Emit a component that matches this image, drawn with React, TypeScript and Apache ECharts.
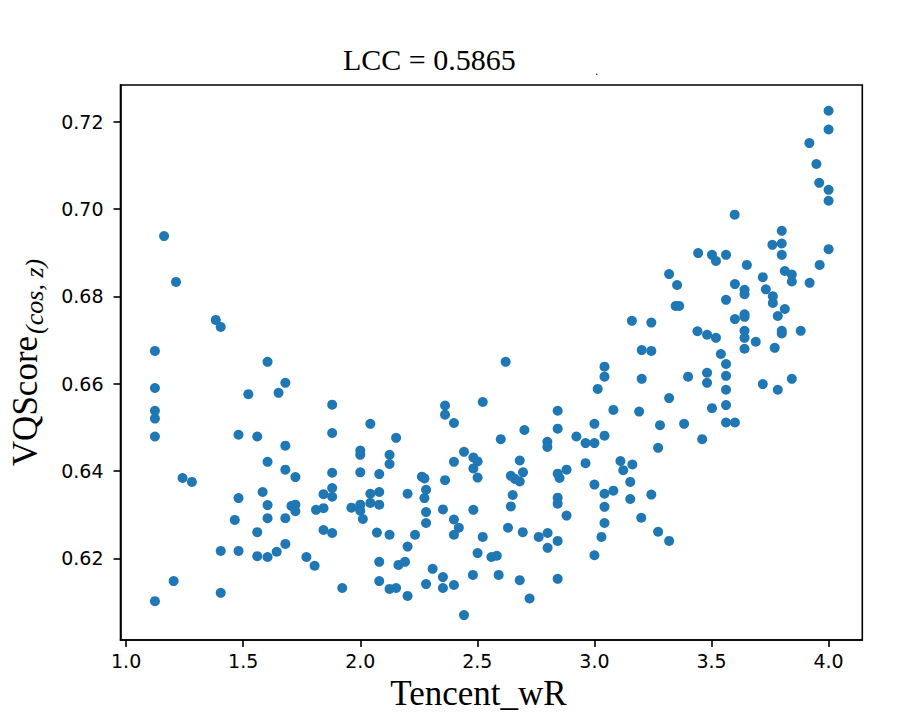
import React, { useEffect, useRef } from "react";
import * as echarts from "echarts";

// Tencent_wR values (x) and VQScore_(cos,z) values (y)
const tencentWR = [
  1.123, 1.123, 1.123, 1.123, 1.123, 1.123, 1.162, 1.213, 1.203, 1.241,
  1.281, 1.383, 1.404, 1.404, 1.404, 1.464, 1.48, 1.48, 1.48, 1.522,
  1.56, 1.56, 1.56, 1.583, 1.604, 1.604, 1.604, 1.604, 1.604, 1.643,
  1.651, 1.68, 1.68, 1.68, 1.68, 1.68, 1.706, 1.723, 1.723, 1.723,
  1.77, 1.805, 1.811, 1.843, 1.843, 1.843, 1.88, 1.88, 1.88, 1.88,
  1.88, 1.88, 1.923, 1.962, 2.0, 2.0, 2.0, 2.0, 2.0, 2.011,
  2.043, 2.043, 2.043, 2.071, 2.081, 2.081, 2.081, 2.081, 2.081, 2.125,
  2.125, 2.125, 2.125, 2.153, 2.153, 2.163, 2.191, 2.202, 2.202, 2.202,
  2.234, 2.263, 2.274, 2.274, 2.281, 2.281, 2.281, 2.281, 2.309, 2.353,
  2.353, 2.353, 2.362, 2.362, 2.362, 2.4, 2.4, 2.4, 2.4, 2.4,
  2.421, 2.443, 2.443, 2.481, 2.483, 2.483, 2.483, 2.501, 2.501, 2.501,
  2.523, 2.523, 2.56, 2.583, 2.591, 2.6, 2.621, 2.631, 2.643, 2.643,
  2.651, 2.66, 2.681, 2.681, 2.681, 2.694, 2.695, 2.701, 2.723, 2.762,
  2.799, 2.799, 2.8, 2.8, 2.843, 2.843, 2.843, 2.851, 2.843, 2.843,
  2.843, 2.843, 2.881, 2.881, 2.923, 2.962, 2.962, 3.0, 3.0, 3.0,
  3.0, 3.014, 3.043, 3.043, 3.043, 3.043, 3.043, 3.043, 3.03, 3.081,
  3.081, 3.111, 3.123, 3.153, 3.153, 3.16, 3.162, 3.191, 3.2, 3.202,
  3.202, 3.243, 3.243, 3.243, 3.272, 3.272, 3.28, 3.319, 3.319, 3.319,
  3.347, 3.362, 3.353, 3.383, 3.4, 3.44, 3.443, 3.46, 3.481, 3.481,
  3.481, 3.502, 3.502, 3.519, 3.519, 3.54, 3.562, 3.562, 3.562, 3.562,
  3.562, 3.562, 3.562, 3.599, 3.6, 3.6, 3.6, 3.641, 3.641, 3.641,
  3.641, 3.641, 3.641, 3.641, 3.651, 3.689, 3.719, 3.719, 3.732, 3.76,
  3.762, 3.762, 3.77, 3.783, 3.783, 3.8, 3.8, 3.8, 3.8, 3.8,
  3.813, 3.813, 3.843, 3.843, 3.843, 3.881, 3.918, 3.919, 3.948, 3.96,
  3.962, 4.0, 4.0, 4.0, 4.0, 4.0,
];

const vqScore = [
  0.6675, 0.659, 0.6538, 0.652, 0.6479, 0.6102, 0.6938, 0.6833, 0.6148, 0.6384,
  0.6375, 0.6746, 0.673, 0.6217, 0.6121, 0.6288, 0.6483, 0.6338, 0.6217, 0.6576,
  0.6479, 0.626, 0.6205, 0.6352, 0.665, 0.6421, 0.6322, 0.6292, 0.6203, 0.6215,
  0.6579, 0.6602, 0.6458, 0.6403, 0.6292, 0.6233, 0.632, 0.6386, 0.6323, 0.6308,
  0.6203, 0.6183, 0.6311, 0.6347, 0.6315, 0.6265, 0.6552, 0.6487, 0.6396, 0.6361,
  0.6341, 0.6258, 0.6132, 0.6316, 0.6447, 0.6437, 0.6397, 0.6323, 0.6309, 0.629,
  0.6508, 0.6348, 0.6327, 0.6259, 0.6393, 0.6352, 0.6323, 0.6192, 0.6148, 0.6437,
  0.6416, 0.6254, 0.613, 0.6476, 0.6132, 0.6185, 0.6192, 0.6348, 0.6227, 0.6114,
  0.6254, 0.6387, 0.6383, 0.6338, 0.6357, 0.6306, 0.6281, 0.6141, 0.6176, 0.6312,
  0.6157, 0.6132, 0.655, 0.6529, 0.6379, 0.651, 0.6421, 0.6289, 0.6254, 0.6139,
  0.627, 0.6444, 0.607, 0.6162, 0.6431, 0.6406, 0.6311, 0.6422, 0.6385, 0.6212,
  0.6558, 0.6249, 0.6203, 0.6206, 0.6162, 0.6473, 0.665, 0.627, 0.6389, 0.6319,
  0.6345, 0.6382, 0.6424, 0.6376, 0.615, 0.626, 0.6397, 0.6494, 0.6108, 0.6249,
  0.6467, 0.6455, 0.6258, 0.6224, 0.6538, 0.6497, 0.6394, 0.6384, 0.6339, 0.6325,
  0.624, 0.6153, 0.6403, 0.6298, 0.6479, 0.6464, 0.6418, 0.6508, 0.6464, 0.6369,
  0.6207, 0.6588, 0.6639, 0.6616, 0.6481, 0.6348, 0.6318, 0.6281, 0.6249, 0.654,
  0.6355, 0.6423, 0.6402, 0.6375, 0.6336, 0.6744, 0.6415, 0.6536, 0.6293, 0.6677,
  0.6611, 0.674, 0.6675, 0.6346, 0.6453, 0.6261, 0.6505, 0.6851, 0.6567, 0.624,
  0.6778, 0.6778, 0.6826, 0.6508, 0.6616, 0.672, 0.6899, 0.6473, 0.6712, 0.6625,
  0.6602, 0.6895, 0.6544, 0.6881, 0.6705, 0.6668, 0.6895, 0.6792, 0.6645, 0.6618,
  0.6586, 0.6551, 0.6511, 0.6987, 0.6828, 0.6748, 0.6511, 0.6815, 0.6805, 0.6759,
  0.6753, 0.6721, 0.6705, 0.668, 0.6872, 0.6696, 0.6844, 0.6599, 0.6816, 0.6918,
  0.68, 0.6785, 0.6682, 0.6755, 0.6586, 0.695, 0.6921, 0.6895, 0.6721, 0.6715,
  0.6858, 0.6771, 0.685, 0.6834, 0.6611, 0.6721, 0.7151, 0.6831, 0.7103, 0.706,
  0.6872, 0.7225, 0.7182, 0.7044, 0.7019, 0.6908,
];

const xTicks = [1.0, 1.5, 2.0, 2.5, 3.0, 3.5, 4.0];
const yTicks = [0.62, 0.64, 0.66, 0.68, 0.7, 0.72];

const titleText = "LCC = 0.5865";
const xName = "Tencent_wR";
const yNameMain = "VQScore";
const yNameSub = "(cos, z)";

export default function App() {
  const ref = useRef<HTMLDivElement>(null);

  useEffect(() => {
    if (!ref.current) return;
    const chart = echarts.init(ref.current, null, { renderer: "svg" });
    const data = tencentWR.map((x, i) => [x, vqScore[i]]);
    const axisColor = "#000";
    chart.setOption({
      animation: false,
      backgroundColor: "#fff",
      title: {
        text: titleText,
        left: 343,
        top: 44,
        padding: 0,
        textStyle: {
          fontFamily: "Liberation Serif",
          fontSize: 30,
          fontWeight: "normal",
          color: "#000",
        },
      },
      grid: {
        left: 117.7,
        top: 85,
        width: 744.6,
        height: 555,
        show: true,
        borderColor: axisColor,
        borderWidth: 1.6,
        backgroundColor: "transparent",
      },
      xAxis: {
        type: "value",
        min: 0.976,
        max: 4.144,
        position: "bottom",
        name: xName,
        nameLocation: "middle",
        nameGap: 36,
        nameTextStyle: {
          fontFamily: "Liberation Serif",
          fontSize: 35,
          color: "#000",
          padding: [0, 26, 0, 0],
        },
        splitLine: { show: false },
        axisLine: { show: true, onZero: false, lineStyle: { color: axisColor, width: 1.6 } },
        axisTick: {
          show: true,
          inside: false,
          length: 7,
          customValues: xTicks,
          lineStyle: { color: axisColor, width: 1.6 },
        },
        axisLabel: {
          customValues: xTicks,
          formatter: (v: number) => v.toFixed(1),
          fontFamily: "DejaVu Sans",
          fontSize: 19,
          color: "#000",
          margin: 11,
        },
      },
      yAxis: {
        type: "value",
        min: 0.6013,
        max: 0.7284,
        position: "left",
        name: "{a|" + yNameMain + "}{b|" + yNameSub + "}",
        nameLocation: "middle",
        nameRotate: 90,
        nameGap: 73,
        nameTextStyle: {
          rich: {
            a: { fontFamily: "Liberation Serif", fontSize: 35, color: "#000" },
            b: {
              fontFamily: "Liberation Serif",
              fontSize: 26,
              fontStyle: "italic",
              color: "#000",
              padding: [18, 0, 0, 2],
            },
          },
        },
        splitLine: { show: false },
        axisLine: { show: true, onZero: false, lineStyle: { color: axisColor, width: 1.6 } },
        axisTick: {
          show: true,
          inside: false,
          length: 7,
          customValues: yTicks,
          lineStyle: { color: axisColor, width: 1.6 },
        },
        axisLabel: {
          customValues: yTicks,
          formatter: (v: number) => v.toFixed(2),
          fontFamily: "DejaVu Sans",
          fontSize: 19,
          color: "#000",
          margin: 17,
        },
      },
      graphic: [
        {
          type: "rect",
          shape: { x: 596, y: 73.5, width: 1.5, height: 1.5 },
          style: { fill: "#555" },
          silent: true,
        },
      ],
      series: [
        {
          type: "scatter",
          data,
          symbol: "circle",
          symbolSize: 10,
          itemStyle: { color: "#1f77b4", opacity: 1 },
          emphasis: { disabled: true },
        },
      ],
    });
    return () => chart.dispose();
  }, []);

  return (
    <div
      ref={ref}
      style={{ position: "absolute", left: 0, top: 0, width: 900, height: 719 }}
    />
  );
}
